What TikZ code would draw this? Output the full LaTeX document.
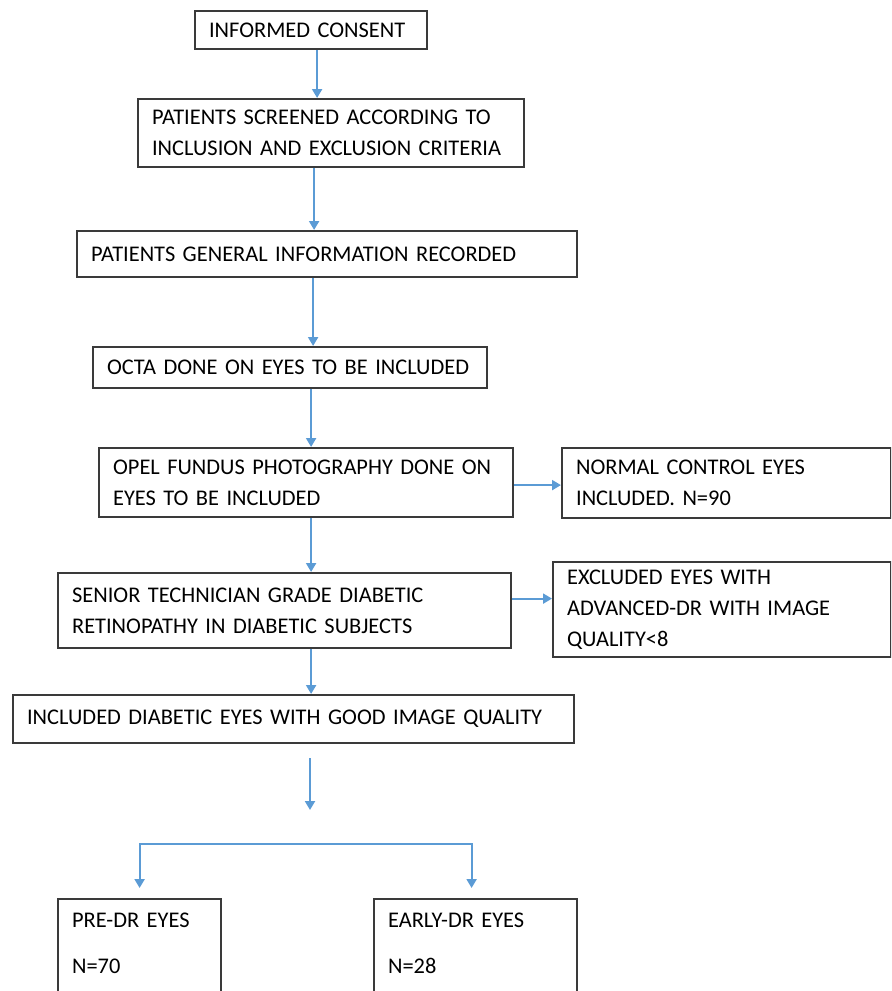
\documentclass[tikz,border=0pt]{standalone}
\usepackage{fontspec}
\setmainfont{Carlito}
\usetikzlibrary{arrows.meta}
\definecolor{flowblue}{HTML}{5B9BD5}
\definecolor{boxgray}{HTML}{3A3A3A}
\tikzset{
    box/.style={draw=boxgray, line width=1.1pt, anchor=north west, align=left,
                inner xsep=7pt, inner ysep=3pt, font=\fontsize{11.2}{15.5}\selectfont},
    flow/.style={draw=flowblue, line width=1pt, -{Triangle[width=5pt,length=4.5pt]}},
}

\begin{document}
\begin{tikzpicture}[x=0.5pt,y=-0.5pt]

    % Page
    \useasboundingbox (0,0) rectangle (891,991);
    \clip (0,0) rectangle (891,991);

    % Main column
    \node[box, text width=102pt, minimum height=19pt] (consent) at (194,10) {INFORMED CONSENT};
    \node[box, text width=179pt, minimum height=34pt] (screened) at (137,98) {PATIENTS SCREENED ACCORDING TO\\INCLUSION AND EXCLUSION CRITERIA};
    \node[box, text width=236pt, minimum height=23pt] (general) at (76,230) {PATIENTS GENERAL INFORMATION RECORDED};
    \node[box, text width=183pt, minimum height=20.5pt] (octa) at (92,346) {OCTA DONE ON EYES TO BE INCLUDED};
    \node[box, text width=193pt, minimum height=34.5pt] (opel) at (98,447) {OPEL FUNDUS PHOTOGRAPHY DONE ON\\EYES TO BE INCLUDED};
    \node[box, text width=212.5pt, minimum height=37.5pt] (senior) at (57,572) {SENIOR TECHNICIAN GRADE DIABETIC\\RETINOPATHY IN DIABETIC SUBJECTS};
    \node[box, text width=266.5pt, minimum height=24pt] (included) at (12,694) {INCLUDED DIABETIC EYES WITH GOOD IMAGE QUALITY};

    % Side boxes
    \node[box, text width=150.5pt, minimum height=35pt] (normal) at (561,447) {NORMAL CONTROL EYES\\INCLUDED. N=90};
    \node[box, text width=155pt, minimum height=47.5pt] (excluded) at (552,561) {EXCLUDED EYES WITH\\ADVANCED-DR WITH IMAGE\\QUALITY<8};

    % Groups
    \node[box, inner ysep=7pt, text width=67.5pt, text depth=37pt] (predr) at (57,898) {PRE-DR EYES\\[7.5pt]N=70};
    \node[box, inner ysep=7pt, text width=87.5pt, text depth=37pt] (earlydr) at (373,898) {EARLY-DR EYES\\[7.5pt]N=28};

    % Arrows
    \draw[flow] ([xshift=3pt]consent.south) -- ([xshift=3pt]consent.south |- screened.north);
    \draw[flow] ([xshift=-8.5pt]screened.south) -- ([xshift=-8.5pt]screened.south |- general.north);
    \draw[flow] ([xshift=-7pt]general.south) -- ([xshift=-7pt]general.south |- octa.north);
    \draw[flow] ([xshift=10.5pt]octa.south) -- ([xshift=10.5pt]octa.south |- opel.north);
    \draw[flow] ([xshift=2.5pt]opel.south) -- ([xshift=2.5pt]opel.south |- senior.north);
    \draw[flow] ([xshift=13.25pt]senior.south) -- ([xshift=13.25pt]senior.south |- included.north);
    \draw[flow] ([yshift=-1.25pt]opel.east) -- ([yshift=-1.25pt]opel.east -| normal.west);
    \draw[flow] ([yshift=6pt]senior.east) -- ([yshift=6pt]senior.east -| excluded.west);

    % Split
    \coordinate (fork) at (310,844);
    \draw[flow] ([yshift=-7pt]included.south -| fork) -- ([yshift=17pt]fork);
    \draw[flow] (fork) -| ([yshift=5pt]predr.north);
    \draw[flow] (fork) -| ([xshift=-2pt,yshift=5pt]earlydr.north);

\end{tikzpicture}
\end{document}
